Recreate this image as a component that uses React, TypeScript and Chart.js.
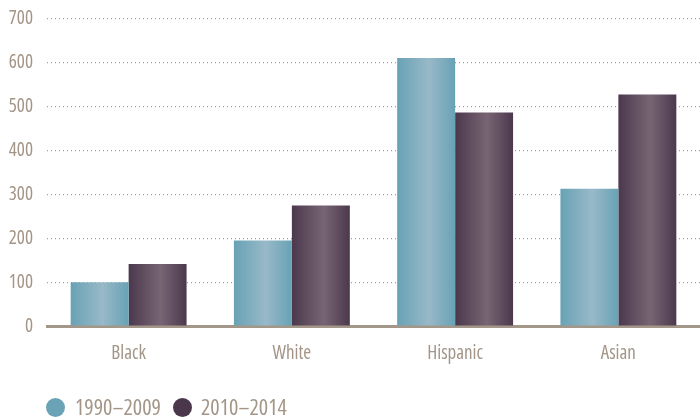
import React, { useEffect, useRef } from "react";
import { Chart, registerables } from "chart.js";

Chart.register(...registerables);

const categories = ["Black", "White", "Hispanic", "Asian"];
const seriesLabels = ["1990–2009", "2010–2014"];
const values1990 = [100, 195, 611, 313];
const values2010 = [142, 275, 487, 528];
const yMax = 700;
const yStep = 100;

const FONT = "'Open Sans', 'Roboto', sans-serif";
const WEIGHT = "normal condensed";
const TEXT = "#a39587";
const BLUE = { edge: "#68a2b5", mid: "#98b9c8", solid: "#6aa3b6" };
const PURPLE = { edge: "#4c384d", mid: "#776574", solid: "#4a374b" };
const palettes = [BLUE, PURPLE];

const gradientPlugin = {
  id: "barGradient",
  beforeDatasetsDraw(chart: any) {
    const ctx = chart.ctx;
    chart.data.datasets.forEach((_: any, di: number) => {
      const meta = chart.getDatasetMeta(di);
      const pal = palettes[di];
      meta.data.forEach((el: any) => {
        const x0 = el.x - el.width / 2;
        const x1 = el.x + el.width / 2;
        const g = ctx.createLinearGradient(x0, 0, x1, 0);
        g.addColorStop(0, pal.edge);
        g.addColorStop(0.55, pal.mid);
        g.addColorStop(1, pal.edge);
        el.options.backgroundColor = g;
      });
    });
  },
};

const legendPlugin = {
  id: "customLegend",
  afterDraw(chart: any) {
    const ctx = chart.ctx;
    const y = 407.5;
    const positions = [{ cx: 55.5, tx: 75 }, { cx: 182.5, tx: 201 }];
    ctx.save();
    ctx.font = `${WEIGHT} 22px ${FONT}`;
    ctx.textBaseline = "middle";
    ctx.textAlign = "left";
    chart.data.datasets.forEach((ds: any, i: number) => {
      const p = positions[i];
      ctx.beginPath();
      ctx.fillStyle = palettes[i].solid;
      ctx.arc(p.cx, y, 9.5, 0, Math.PI * 2);
      ctx.fill();
      ctx.fillStyle = TEXT;
      ctx.fillText(ds.label, p.tx, y + 1);
    });
    ctx.restore();
  },
};

export default function App() {
  const canvasRef = useRef<HTMLCanvasElement | null>(null);

  useEffect(() => {
    if (!canvasRef.current) return;
    const chart = new Chart(canvasRef.current, {
      type: "bar",
      data: {
        labels: categories,
        datasets: [
          { label: seriesLabels[0], data: values1990, backgroundColor: () => BLUE.solid, borderWidth: 0 },
          { label: seriesLabels[1], data: values2010, backgroundColor: () => PURPLE.solid, borderWidth: 0 },
        ],
      },
      options: {
        responsive: false,
        animation: false,
        maintainAspectRatio: false,
        layout: { padding: { top: 0, right: 0, bottom: 47, left: 0 } },
        datasets: { bar: { categoryPercentage: 0.71, barPercentage: 1 } },
        plugins: { legend: { display: false }, tooltip: { enabled: false } },
        scales: {
          x: {
            grid: { display: false },
            border: { display: true, color: "#a3978a", width: 3 },
            ticks: { color: TEXT, font: { family: FONT, size: 19, weight: WEIGHT as any }, padding: 8 },
          },
          y: {
            min: 0,
            max: yMax,
            afterFit(axis: any) {
              axis.width = 47;
              axis.paddingTop = 19;
            },
            border: { display: false, dash: [1, 3] },
            grid: {
              color: (c: any) => (c.tick && c.tick.value === 0 ? "rgba(0,0,0,0)" : "#a89b8f"),
              lineWidth: 1.2,
              drawTicks: false,
            },
            ticks: {
              stepSize: yStep,
              color: TEXT,
              font: { family: FONT, size: 19, weight: WEIGHT as any },
              padding: 14,
            },
          },
        },
      },
      plugins: [gradientPlugin, legendPlugin],
    });
    return () => chart.destroy();
  }, []);

  return (
    <div style={{ position: "fixed", left: 0, top: 0, width: 700, height: 420, background: "#fff" }}>
      <canvas ref={canvasRef} width={700} height={420} style={{ width: 700, height: 420 }} />
    </div>
  );
}
